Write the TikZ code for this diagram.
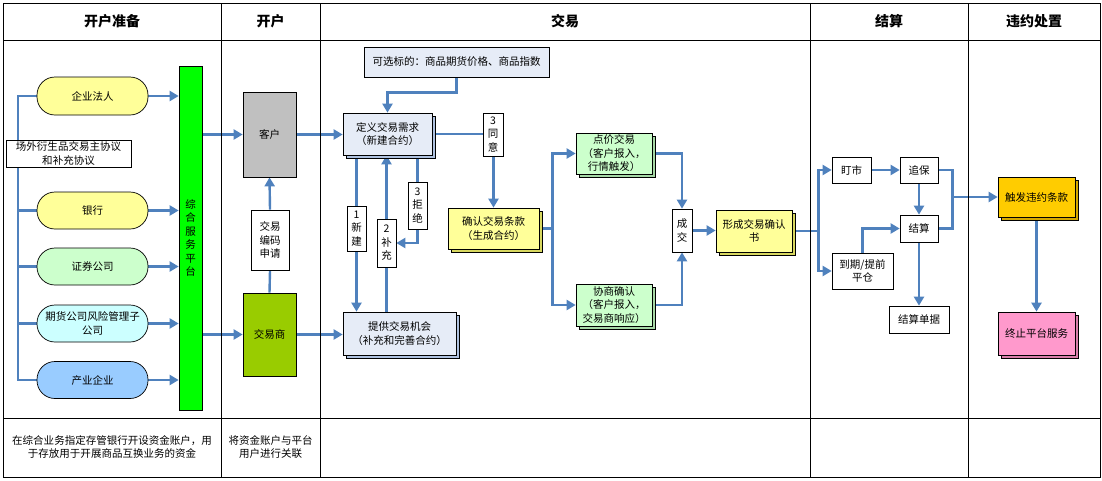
\documentclass[tikz,border=0pt]{standalone}
\usepackage{fontspec}
\setmainfont{Noto Sans CJK SC}
\usetikzlibrary{arrows.meta,shadows,backgrounds,calc}
\definecolor{lineblue}{HTML}{4F81BD}
\definecolor{capyellow}{HTML}{FFFF99}
\definecolor{capgreen}{HTML}{CCFFCC}
\definecolor{capcyan}{HTML}{CCFFFF}
\definecolor{capblue}{HTML}{99CCFF}
\definecolor{bargreen}{HTML}{00FF00}
\definecolor{custgray}{HTML}{C0C0C0}
\definecolor{dealerolive}{HTML}{99CC00}
\definecolor{paleblue}{HTML}{E6ECF7}
\definecolor{palebluesh}{HTML}{AFC2E0}
\definecolor{yellowsh}{HTML}{D8D860}
\definecolor{greensh}{HTML}{A6D8A6}
\definecolor{orangebox}{HTML}{FFCC00}
\definecolor{orangesh}{HTML}{D4A800}
\definecolor{pinkbox}{HTML}{FF99CC}
\definecolor{pinksh}{HTML}{D87FAA}
\newcommand\boxfont{\fontsize{10.5}{13.5}\selectfont}
\begin{document}
\begin{tikzpicture}[x=1pt,y=-1pt,
  box/.style={draw=black, line width=0.7pt, inner sep=0pt, align=center, font=\boxfont},
  capsule/.style={box, rounded corners=18pt},
  lbl/.style={box, fill=white},
  shd/.style={general shadow={fill=#1, draw=black, line width=0.7pt, shadow xshift=3pt, shadow yshift=-3pt}},
  conn/.style={draw=lineblue, line width=2.4pt},
  arr/.style={conn, -{Triangle[length=9pt,width=10pt]}},
  head/.style={font=\fontsize{14}{16}\selectfont\bfseries},
  foot/.style={font=\boxfont, align=center}
]
\useasboundingbox (0,0) rectangle (1102,480);

% ---- frame
\draw[line width=0.8pt] (3,3) rectangle (1100,477);
\foreach \xx in {221,320,810,968} \draw[line width=0.8pt] (\xx,3) -- (\xx,477);
\draw[line width=0.8pt] (3,40) -- (1100,40);
\draw[line width=0.8pt] (3,418) -- (1100,418);

% ---- headers
\node[head] (h1) at (112,21) {开户准备};
\node[head] (h2) at (270.5,21) {开户};
\node[head] (h3) at (565,21) {交易};
\node[head] (h4) at (889,21) {结算};
\node[head] (h5) at (1034,21) {违约处置};

% ---- footer
\node[foot] (f1) at (112,447) {在综合业务指定存管银行开设资金账户，用\\于存放用于开展商品互换业务的资金};
\node[foot] (f2) at (270.5,447) {将资金账户与平台\\用户进行关联};

% ---- column 1
\node[capsule, fill=capyellow, minimum width=111pt, minimum height=38pt] (c1) at (92.5,96) {企业法人};
\node[box, fill=white, minimum width=125pt, minimum height=27pt] (agr) at (68.5,153.5) {场外衍生品交易主协议\\和补充协议};
\node[capsule, fill=capyellow, minimum width=111pt, minimum height=37pt] (c2) at (92.5,210.5) {银行};
\node[capsule, fill=capgreen, minimum width=111pt, minimum height=37pt] (c3) at (92.5,266.5) {证券公司};
\node[capsule, fill=capcyan, minimum width=111pt, minimum height=37pt] (c4) at (92.5,323.5) {期货公司风险管理子\\公司};
\node[capsule, fill=capblue, minimum width=111pt, minimum height=37pt] (c5) at (92.5,380) {产业企业};
\node[box, fill=bargreen, minimum width=23pt, minimum height=344pt] (bar) at (190.5,238) {综\\合\\服\\务\\平\\台};
\coordinate (tr) at (18,380);

% ---- column 2
\node[box, fill=custgray, minimum width=53pt, minimum height=85pt] (kh) at (269.5,134.5) {客户};
\node[lbl, minimum width=38pt, minimum height=60pt] (sq) at (270,240) {交易\\编码\\申请};
\node[box, fill=dealerolive, minimum width=53pt, minimum height=83pt] (jys) at (269.5,334.5) {交易商};

% ---- trading
\node[box, fill=paleblue, minimum width=185pt, minimum height=30pt] (kx) at (456.5,62) {可选标的：商品期货价格、商品指数};
\node[box, fill=paleblue, shd=palebluesh, minimum width=89pt, minimum height=42pt] (dy) at (387.5,134) {定义交易需求\\（新建合约）};
\node[box, fill=paleblue, shd=palebluesh, minimum width=113pt, minimum height=43pt] (tg) at (399.5,333.5) {提供交易机会\\（补充和完善合约）};
\node[box, fill=capyellow, shd=yellowsh, minimum width=91pt, minimum height=41pt] (qr) at (493.5,228.5) {确认交易条款\\（生成合约）};
\node[box, fill=capgreen, shd=greensh, minimum width=76pt, minimum height=41pt] (dj) at (614,153.5) {点价交易\\（客户报入，\\行情触发）};
\node[box, fill=capgreen, shd=greensh, minimum width=76pt, minimum height=42pt] (xs) at (614,305) {协商确认\\（客户报入，\\交易商响应）};
\node[lbl, minimum width=20pt, minimum height=43pt] (cj) at (682,230.5) {成\\交};
\node[box, fill=capyellow, shd=yellowsh, minimum width=76pt, minimum height=42pt] (xc) at (754,231) {形成交易确认\\书};

% ---- settlement
\node[lbl, minimum width=39pt, minimum height=26pt] (ds) at (851.5,170) {盯市};
\node[lbl, minimum width=38pt, minimum height=26pt] (zb) at (919,170) {追保};
\node[lbl, minimum width=38pt, minimum height=27pt] (js) at (919,228.5) {结算};
\node[lbl, minimum width=61pt, minimum height=36pt] (dq) at (862.5,271) {到期/提前\\平仓};
\node[lbl, minimum width=60pt, minimum height=27pt] (jsd) at (919,319.5) {结算单据};

% ---- default
\node[box, fill=orangebox, shd=orangesh, minimum width=77pt, minimum height=40pt] (cf) at (1036.5,197) {触发违约条款};
\node[box, fill=pinkbox, shd=pinksh, minimum width=77pt, minimum height=43pt] (zz) at (1036.5,333.5) {终止平台服务};

% ---- labels on connectors
\node[lbl, minimum width=20pt, minimum height=43pt] (ty) at (493,134.5) {3\\同\\意};
\node[lbl, minimum width=19pt, minimum height=45pt] (lb1) at (356.5,228.5) {1\\新\\建};
\node[lbl, minimum width=19pt, minimum height=48pt] (lb2) at (386.5,243) {2\\补\\充};
\node[lbl, minimum width=19pt, minimum height=47pt] (lb3) at (417.5,205.5) {3\\拒\\绝};

\begin{pgfonlayer}{background}
  \draw[conn] (c1.west) -| (tr) -- (c5.west);
  \draw[conn] (c2.west) -- (c2.west -| tr);
  \draw[conn] (c3.west) -- (c3.west -| tr);
  \draw[conn] (c4.west) -- (c4.west -| tr);
  \foreach \c in {c1,c2,c3,c4,c5} \draw[arr] (\c.east) -- (\c.east -| bar.west);
  \draw[arr] (bar.east |- kh.west) -- (kh.west);
  \draw[arr] (bar.east |- jys.west) -- (jys.west);
  \draw[arr] (sq.north) -- (kh.south);
  \draw[conn] (jys.north) -- (sq.south);
  \draw[arr] (kh.east) -- (dy.west |- kh.east);
  \draw[arr] (jys.east) -- (tg.west |- jys.east);
  \draw[arr] (kx.south) -- ++(0,15) -| (dy.north);
  \draw[arr] (dy.east) -| (qr.north);
  \draw[arr] (lb1 |- dy.south) -- (lb1 |- tg.north);
  \draw[arr] (lb2 |- tg.north) -- (lb2 |- dy.south);
  \draw[arr] (lb3 |- dy.south) |- (lb2.east);
  \draw[arr] (qr.east) -- ++(13,0) |- (dj.west);
  \draw[arr] (qr.east) -- ++(13,0) |- (xs.west);
  \draw[arr] (dj.east) -| (cj.north);
  \draw[arr] (xs.east) -| (cj.south);
  \draw[arr] (cj.east) -- (xc.west |- cj.east);
  \draw[arr] (xc.east) -- ++(26,0) |- (ds.west);
  \draw[arr] (xc.east) -- ++(26,0) |- (dq.west);
  \draw[arr] (ds.east) -- (zb.west);
  \draw[arr] (zb.south) -- (js.north);
  \draw[arr] (dq.north) |- (js.west);
  \draw[arr] (js.south) -- (jsd.north);
  \draw[conn] (zb.east) -- ++(14,0) coordinate (mj) |- (js.east);
  \draw[arr] (mj |- cf.west) -- (cf.west);
  \draw[arr] (cf.south) -- (zz.north);
\end{pgfonlayer}
\end{tikzpicture}
\end{document}
